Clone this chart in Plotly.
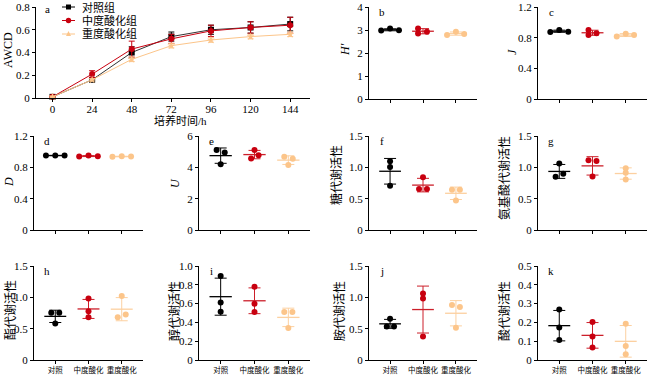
import numpy as np
import plotly.graph_objects as go

W, H = 650, 377

# ---------------- data ----------------
hours = [0, 24, 48, 72, 96, 120, 144]
awcd_ctrl = [0.01, 0.16, 0.40, 0.54, 0.60, 0.62, 0.65]
awcd_ctrl_sd = [0.005, 0.01, 0.05, 0.04, 0.04, 0.05, 0.06]
awcd_med = [0.01, 0.21, 0.43, 0.52, 0.59, 0.62, 0.64]
awcd_med_sd = [0.005, 0.03, 0.07, 0.04, 0.05, 0.05, 0.07]
awcd_heavy = [0.01, 0.16, 0.34, 0.46, 0.51, 0.54, 0.56]
awcd_heavy_sd = [0.005, 0.01, 0.02, 0.02, 0.02, 0.02, 0.02]

legend_names = ["对照组", "中度酸化组", "重度酸化组"]
groups = ["对照", "中度酸化", "重度酸化"]

H_ctrl, H_med, H_heavy = [2.98, 3.06, 2.99], [3.07, 2.85, 2.92], [2.78, 2.92, 2.83]
J_ctrl, J_med, J_heavy = [0.874, 0.90, 0.878], [0.90, 0.835, 0.857], [0.814, 0.852, 0.835]
D_ctrl, D_med, D_heavy = [0.95, 0.952, 0.95], [0.938, 0.95, 0.942], [0.936, 0.94, 0.938]
U_ctrl, U_med, U_heavy = [5.11, 4.94, 4.19], [5.10, 4.77, 4.57], [4.68, 4.55, 4.15]
sugar_ctrl, sugar_med, sugar_heavy = [1.098, 1.007, 0.707], [0.841, 0.654, 0.654], [0.643, 0.643, 0.471]
amino_ctrl, amino_med, amino_heavy = [1.06, 0.896, 0.848], [1.113, 1.103, 0.854], [0.986, 0.912, 0.806]
ester_ctrl, ester_med, ester_heavy = [0.753, 0.753, 0.583], [0.981, 0.779, 0.684], [1.023, 0.684, 0.726]
alcohol_ctrl, alcohol_med, alcohol_heavy = [0.894, 0.613, 0.514], [0.780, 0.599, 0.511], [0.51, 0.51, 0.34]
amine_ctrl, amine_med, amine_heavy = [0.659, 0.536, 0.536], [1.06, 0.98, 0.375], [0.878, 0.846, 0.514]
acid_ctrl, acid_med, acid_heavy = [0.268, 0.173, 0.107], [0.202, 0.125, 0.066], [0.193, 0.075, 0.030]

ticks_a_y = ["0", "0.2", "0.4", "0.6", "0.8"]
ticks_b = ["0", "1", "2", "3", "4"]
ticks_12 = ["0", "0.4", "0.8", "1.2"]
ticks_6 = ["0", "2", "4", "6"]
ticks_15 = ["0", "0.5", "1.0", "1.5"]
ticks_10 = ["0", "0.2", "0.4", "0.6", "0.8", "1.0"]
ticks_05 = ["0", "0.1", "0.2", "0.3", "0.4", "0.5"]

# ---------------- style ----------------
PT_COLORS = ["#000000", "#c8000f", "#fcc58a"]
LN_COLORS = ["#000000", "#cc1f2a", "#fcd0a0"]
FONT = "'Liberation Serif', 'Times New Roman', 'Noto Sans CJK SC', serif"

# beeswarm-like horizontal offsets (category units), per panel per group
JITTER = {
    "b": [[-0.27, 0, 0.27], [-0.15, -0.15, 0.12], [-0.27, 0, 0.25]],
    "c": [[-0.27, 0, 0.27], [-0.12, -0.12, 0.12], [-0.27, 0, 0.25]],
    "d": [[-0.28, 0, 0.28], [-0.28, 0, 0.28], [-0.28, 0, 0.28]],
    "e": [[-0.12, 0.12, 0], [0, 0.12, -0.1], [-0.12, 0.13, 0]],
    "f": [[0, 0, 0], [0, -0.12, 0.12], [-0.12, 0.12, 0]],
    "g": [[0, 0.12, -0.11], [-0.12, 0.12, 0], [0, 0, 0]],
    "h": [[-0.12, 0.12, 0], [0, 0, 0], [0, -0.12, 0.12]],
    "i": [[0, 0, 0], [0, 0, 0], [-0.12, 0.12, 0]],
    "j": [[0, -0.1, 0.12], [0, 0, 0], [-0.12, 0.12, 0]],
    "k": [[0, 0, 0], [0, 0, 0], [0, 0, 0]],
}

def px(x):
    return x / W

def py(y):
    return 1 - y / H

COLS = [(34, 143), (199, 310), (369, 477), (538, 647)]
ROWS = [(7, 99), (136, 230), (266, 360)]

panels = [
    ("b", [H_ctrl, H_med, H_heavy], ticks_b, 4, "H′", 2, 0, 345, 50, True),
    ("c", [J_ctrl, J_med, J_heavy], ticks_12, 1.2, "J", 3, 0, 512, 52, True),
    ("d", [D_ctrl, D_med, D_heavy], ticks_12, 1.2, "D", 0, 1, 9, 182, True),
    ("e", [U_ctrl, U_med, U_heavy], ticks_6, 6, "U", 1, 1, 175, 183, True),
    ("f", [sugar_ctrl, sugar_med, sugar_heavy], ticks_15, 1.5, "糖代谢活性", 2, 1, 336, 175, False),
    ("g", [amino_ctrl, amino_med, amino_heavy], ticks_15, 1.5, "氨基酸代谢活性", 3, 1, 504, 178, False),
    ("h", [ester_ctrl, ester_med, ester_heavy], ticks_15, 1.5, "酯代谢活性", 0, 2, 10, 310, False),
    ("i", [alcohol_ctrl, alcohol_med, alcohol_heavy], ticks_10, 1.0, "醇代谢活性", 1, 2, 174, 311, False),
    ("j", [amine_ctrl, amine_med, amine_heavy], ticks_15, 1.5, "胺代谢活性", 2, 2, 339, 311, False),
    ("k", [acid_ctrl, acid_med, acid_heavy], ticks_05, 0.5, "酸代谢活性", 3, 2, 504, 311, False),
]

fig = go.Figure()
annotations = []
shapes = []
layout = {}

axis_common = dict(showline=True, linecolor="black", linewidth=1, ticks="outside",
                   ticklen=3, tickwidth=1, tickcolor="black", showgrid=False,
                   zeroline=False, automargin=False,
                   tickfont=dict(family=FONT, size=11, color="black"))

def ann(text, x, y, size=11, angle=0, xanchor="center"):
    annotations.append(dict(text=text, x=px(x), y=py(y), xref="paper", yref="paper",
                            xanchor=xanchor, yanchor="middle", textangle=angle,
                            showarrow=False, font=dict(family=FONT, size=size, color="black")))

# ---------------- panel a ----------------
awcd = [(awcd_ctrl, awcd_ctrl_sd), (awcd_med, awcd_med_sd), (awcd_heavy, awcd_heavy_sd)]
symbols = ["square", "circle", "star"]
for gi, (vals, sd) in enumerate(awcd):
    fig.add_trace(go.Scatter(
        x=hours, y=vals, mode="lines+markers", xaxis="x", yaxis="y",
        line=dict(color=PT_COLORS[gi] if gi else "#333333", width=1),
        marker=dict(symbol=symbols[gi], size=6, color=PT_COLORS[gi]),
        error_y=dict(type="data", array=sd, width=3, thickness=1, color=PT_COLORS[gi]),
        showlegend=False, cliponaxis=False))
layout["xaxis"] = dict(axis_common, domain=[px(36), px(310)], range=[-10, 156],
                       tickvals=hours, anchor="y", ticklabelstandoff=-2)
layout["yaxis"] = dict(axis_common, domain=[py(98), py(7)], range=[0, 0.8],
                       tickvals=[float(t) for t in ticks_a_y], ticktext=ticks_a_y, anchor="x")
ann("AWCD", 8, 50, size=12, angle=-90)
ann("培养时间/h", 180, 120, size=11)
ann("a", 47, 9)
# compact legend
for gi, name in enumerate(legend_names):
    yy = 7 + gi * 13.5
    shapes.append(dict(type="line", xref="paper", yref="paper", x0=px(62), x1=px(75),
                       y0=py(yy), y1=py(yy), line=dict(color=PT_COLORS[gi], width=1)))
    if gi == 0:
        shapes.append(dict(type="rect", xref="paper", yref="paper", x0=px(66), x1=px(71),
                           y0=py(yy + 2.5), y1=py(yy - 2.5), fillcolor=PT_COLORS[gi], line_width=0))
    elif gi == 1:
        shapes.append(dict(type="circle", xref="paper", yref="paper", x0=px(65.8), x1=px(71.2),
                           y0=py(yy + 2.7), y1=py(yy - 2.7), fillcolor=PT_COLORS[gi], line_width=0))
    else:
        shapes.append(dict(type="path", xref="paper", yref="paper",
                           path=f"M {px(68.5)},{py(yy-3)} L {px(71)},{py(yy+2)} L {px(66)},{py(yy+2)} Z",
                           fillcolor=PT_COLORS[gi], line_width=0))
    ann(name, 80, yy, size=11, xanchor="left")

# ---------------- dot panels ----------------
for pi, (key, data, tl, ymax, ytitle, col, row, tx, ty, italic) in enumerate(panels):
    n = pi + 2
    xa, ya = f"x{n}", f"y{n}"
    for gi, vals in enumerate(data):
        v = np.array(vals)
        m, s = v.mean(), v.std(ddof=1)
        off = np.array(JITTER[key][gi])
        fig.add_trace(go.Scatter(x=[gi - 0.33, gi + 0.33], y=[m, m], mode="lines",
                                 xaxis=xa, yaxis=ya, line=dict(color=LN_COLORS[gi], width=1.3),
                                 showlegend=False, hoverinfo="skip"))
        fig.add_trace(go.Scatter(x=[gi], y=[m], mode="markers", xaxis=xa, yaxis=ya,
                                 marker=dict(size=1, opacity=0),
                                 error_y=dict(type="data", array=[s], width=6, thickness=1,
                                              color=LN_COLORS[gi]),
                                 showlegend=False))
        fig.add_trace(go.Scatter(x=gi + off, y=v, mode="markers", xaxis=xa, yaxis=ya,
                                 marker=dict(size=6, color=PT_COLORS[gi]),
                                 showlegend=False, cliponaxis=False))
    x0, x1 = COLS[col]
    y0, y1 = ROWS[row]
    layout[f"xaxis{n}"] = dict(axis_common, domain=[px(x0), px(x1)], range=[-0.64, 2.64],
                               tickvals=[0, 1, 2], ticktext=groups, anchor=ya,
                               showticklabels=(row == 2), tickangle=0,
                               tickfont=dict(family=FONT, size=7.5, color="black"))
    layout[f"yaxis{n}"] = dict(axis_common, domain=[py(y1), py(y0)], range=[0, ymax],
                               tickvals=[float(t) for t in tl], ticktext=tl, anchor=xa)
    title = f"<i>{ytitle}</i>" if italic else ytitle
    ann(title, tx, ty, size=12, angle=-90)
    ann(key, x0 + 13, y0 + 5)

fig.update_layout(template="none", width=W, height=H, margin=dict(l=0, r=0, t=0, b=0),
                  paper_bgcolor="white", plot_bgcolor="white",
                  font=dict(family=FONT, color="black"),
                  annotations=annotations, shapes=shapes, showlegend=False, **layout)
fig.write_html("out.html", config={"displayModeBar": False},
               post_script="document.body.style.margin='0px';")
